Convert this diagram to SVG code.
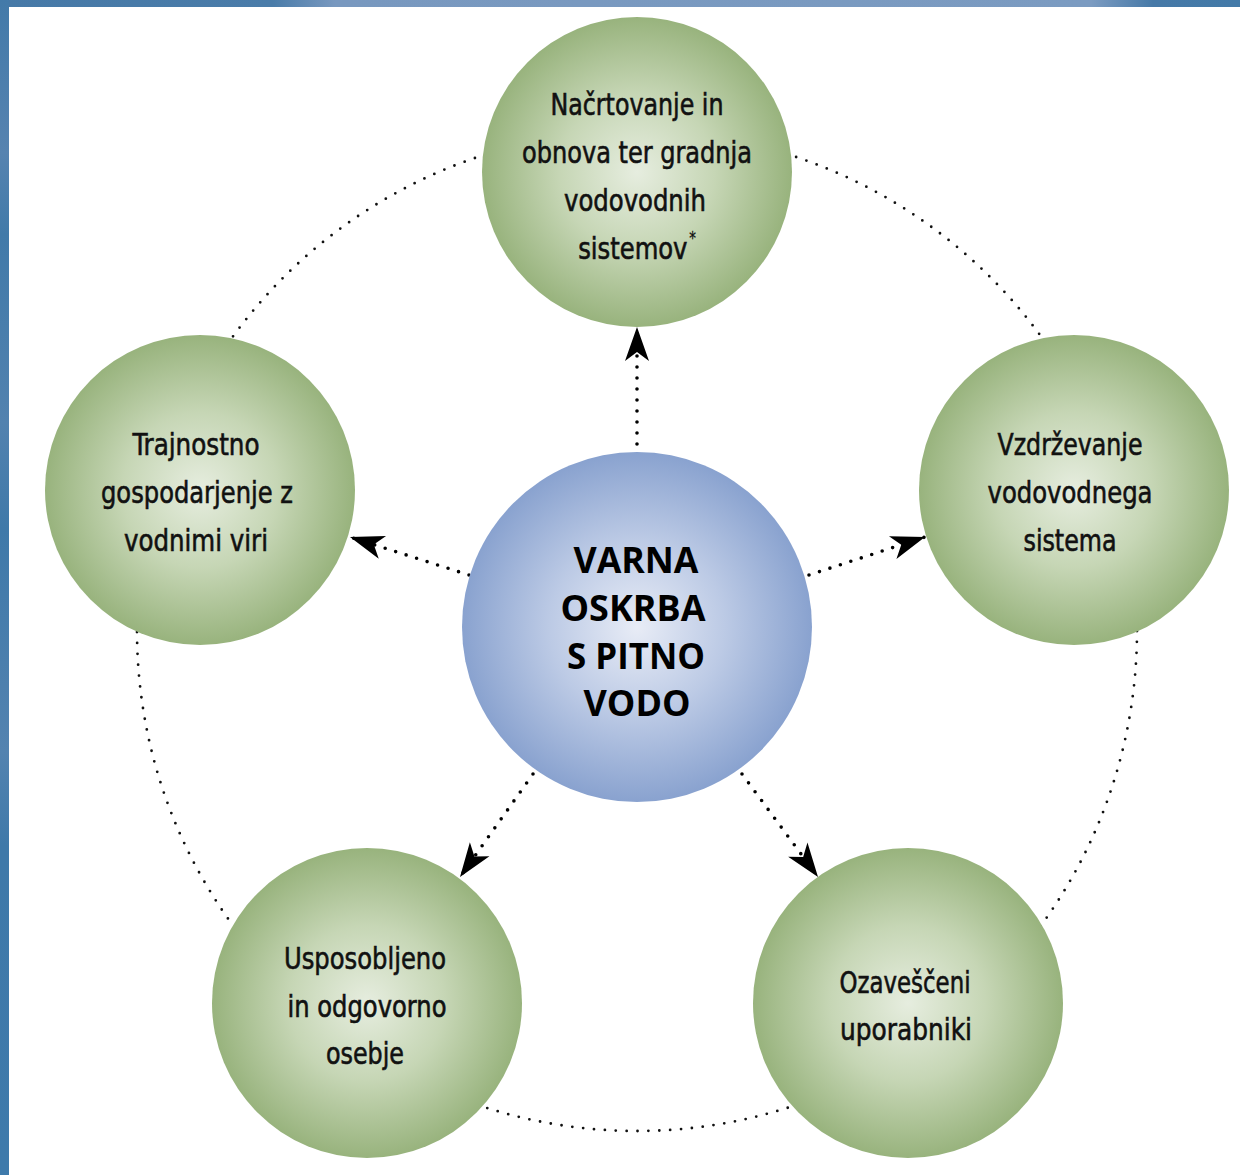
<svg xmlns="http://www.w3.org/2000/svg" width="1240" height="1175" viewBox="0 0 1240 1175">
<defs>
<radialGradient id="gGreen" cx="50%" cy="50%" r="50%">
<stop offset="0" stop-color="#e6eddf"/>
<stop offset="0.5" stop-color="#c6d6b5"/>
<stop offset="1" stop-color="#98b37d"/>
</radialGradient>
<radialGradient id="gBlue" cx="50%" cy="50%" r="50%">
<stop offset="0" stop-color="#e8ecf6"/>
<stop offset="0.5" stop-color="#bccae5"/>
<stop offset="1" stop-color="#89a2cf"/>
</radialGradient>
<linearGradient id="gTop" x1="0" y1="0" x2="1240" y2="0" gradientUnits="userSpaceOnUse">
<stop offset="0" stop-color="#4679a7"/>
<stop offset="0.22" stop-color="#4a7ca9"/>
<stop offset="0.27" stop-color="#7898bf"/>
<stop offset="0.88" stop-color="#7b9bc1"/>
<stop offset="0.93" stop-color="#4679a7"/>
<stop offset="1" stop-color="#437aa8"/>
</linearGradient>
<linearGradient id="gLeft" x1="0" y1="0" x2="0" y2="1175" gradientUnits="userSpaceOnUse">
<stop offset="0" stop-color="#437aa9"/>
<stop offset="0.13" stop-color="#5683b0"/>
<stop offset="0.2" stop-color="#417aa9"/>
<stop offset="0.36" stop-color="#5282af"/>
<stop offset="0.45" stop-color="#3f79a9"/>
<stop offset="0.64" stop-color="#5383b0"/>
<stop offset="0.72" stop-color="#3f79a9"/>
<stop offset="1" stop-color="#3e7aab"/>
</linearGradient>
<marker id="ah" markerUnits="userSpaceOnUse" markerWidth="40" markerHeight="30" viewBox="-36 -15 40 30" refX="0" refY="0" orient="auto">
<path d="M0,0 L-34,-12 L-25,0 L-34,12 Z" fill="#000"/>
</marker>
<style>
.node{fill:url(#gGreen);}
.hub{fill:url(#gBlue);}
.lbl{font-family:"Liberation Sans Narrow","DejaVu Sans Condensed","Liberation Sans",sans-serif;font-size:31px;fill:#111;stroke:#111;stroke-width:0.6;text-anchor:middle;}
.hubl{font-family:"Open Sans","Noto Sans","Liberation Sans",sans-serif;font-weight:bold;font-size:35px;fill:#000;text-anchor:middle;}
.ring{fill:none;stroke:#111;stroke-width:2.8;stroke-linecap:round;stroke-dasharray:0 10.9;}
.arr{fill:none;stroke:#000;stroke-width:3.6;stroke-linecap:round;stroke-dasharray:0 11;marker-end:url(#ah);}
</style>
</defs>
<rect x="0" y="0" width="1240" height="1175" fill="#fff"/>
<rect x="0" y="0" width="1240" height="7" fill="url(#gTop)"/>
<rect x="0" y="0" width="9" height="1175" fill="url(#gLeft)"/>

<g id="connectors">
<circle class="ring" cx="637" cy="631" r="500"/>
<line class="arr" x1="637" y1="455" x2="637" y2="327"/>
<line class="arr" x1="469" y1="575" x2="350" y2="537"/>
<line class="arr" x1="809" y1="575" x2="925" y2="537"/>
<line class="arr" x1="533" y1="774" x2="460" y2="877"/>
<line class="arr" x1="742" y1="774" x2="818" y2="877"/>
</g>

<g id="hub">
<circle class="hub" cx="637" cy="627" r="175"/>
<text class="hubl" x="636" y="573" textLength="125" lengthAdjust="spacingAndGlyphs">VARNA</text>
<text class="hubl" x="633" y="621" textLength="145" lengthAdjust="spacingAndGlyphs">OSKRBA</text>
<text class="hubl" x="636" y="669" textLength="138" lengthAdjust="spacingAndGlyphs">S PITNO</text>
<text class="hubl" x="637" y="716" textLength="107" lengthAdjust="spacingAndGlyphs">VODO</text>
</g>

<g id="node-top">
<circle class="node" cx="637" cy="172" r="155"/>
<text class="lbl" x="637" y="115" textLength="173" lengthAdjust="spacingAndGlyphs">Načrtovanje in</text>
<text class="lbl" x="637" y="163" textLength="230" lengthAdjust="spacingAndGlyphs">obnova ter gradnja</text>
<text class="lbl" x="635" y="211" textLength="142" lengthAdjust="spacingAndGlyphs">vodovodnih</text>
<text class="lbl" transform="translate(637,259) scale(0.87,1)" x="0" y="0">sistemov<tspan font-size="17" stroke-width="0.3" dx="2" dy="-15">*</tspan></text>
</g>

<g id="node-left">
<circle class="node" cx="200" cy="490" r="155"/>
<text class="lbl" x="196" y="455" textLength="127" lengthAdjust="spacingAndGlyphs">Trajnostno</text>
<text class="lbl" x="197" y="503" textLength="192" lengthAdjust="spacingAndGlyphs">gospodarjenje z</text>
<text class="lbl" x="196" y="551" textLength="144" lengthAdjust="spacingAndGlyphs">vodnimi viri</text>
</g>

<g id="node-right">
<circle class="node" cx="1074" cy="490" r="155"/>
<text class="lbl" x="1070" y="455" textLength="145" lengthAdjust="spacingAndGlyphs">Vzdrževanje</text>
<text class="lbl" x="1070" y="503" textLength="165" lengthAdjust="spacingAndGlyphs">vodovodnega</text>
<text class="lbl" x="1070" y="551" textLength="93" lengthAdjust="spacingAndGlyphs">sistema</text>
</g>

<g id="node-bottom-left">
<circle class="node" cx="367" cy="1003" r="155"/>
<text class="lbl" x="365" y="969" textLength="162" lengthAdjust="spacingAndGlyphs">Usposobljeno</text>
<text class="lbl" x="367" y="1017" textLength="159" lengthAdjust="spacingAndGlyphs">in odgovorno</text>
<text class="lbl" x="365" y="1064" textLength="78" lengthAdjust="spacingAndGlyphs">osebje</text>
</g>

<g id="node-bottom-right">
<circle class="node" cx="908" cy="1003" r="155"/>
<text class="lbl" x="905" y="993" textLength="131" lengthAdjust="spacingAndGlyphs">Ozaveščeni</text>
<text class="lbl" x="906" y="1040" textLength="132" lengthAdjust="spacingAndGlyphs">uporabniki</text>
</g>
</svg>
